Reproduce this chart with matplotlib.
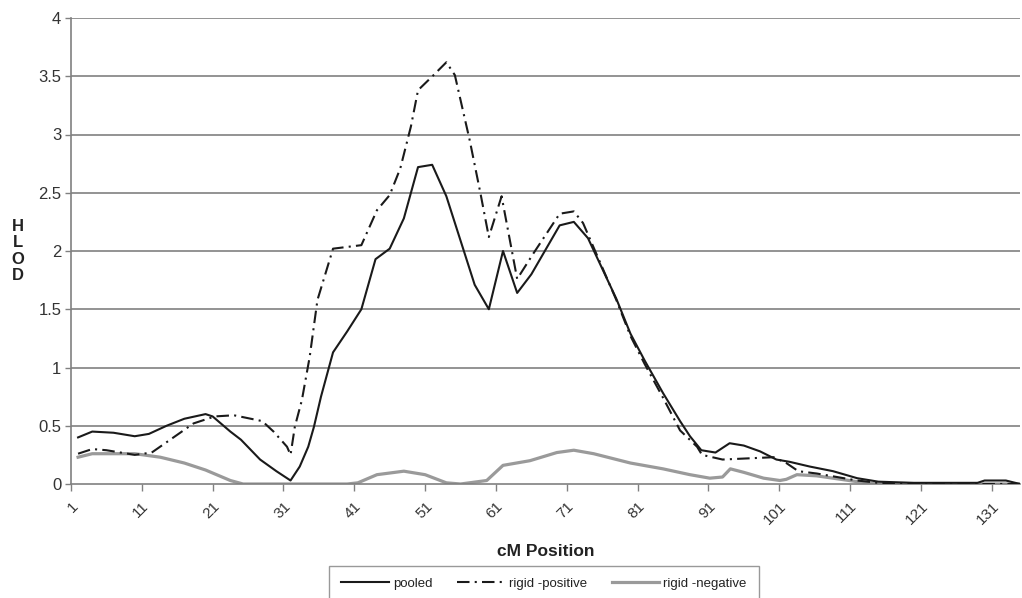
import matplotlib
matplotlib.use('Agg')
import matplotlib.pyplot as plt
import numpy as np

plt.rcParams['font.family'] = ['Liberation Sans', 'DejaVu Sans']

# values (cM position, HLOD)
pooled_x = [2, 4, 7, 10, 12, 14.5, 17, 20, 21, 23.5, 25, 27.7, 30, 32, 33.3,
            34.5, 35.3, 36.3, 38, 40, 42, 44, 46, 48, 50, 52, 54, 58, 60, 62,
            64, 66, 70, 72, 74, 78, 80, 82, 84.6, 87, 88.4, 90, 92, 94, 96,
            98.3, 100.6, 102.5, 105.3, 108.6, 112, 115, 120, 125, 129, 130,
            133, 135]
pooled_y = [0.40, 0.45, 0.44, 0.41, 0.43, 0.50, 0.56, 0.60, 0.58, 0.45, 0.38,
            0.21, 0.11, 0.03, 0.15, 0.32, 0.49, 0.75, 1.13, 1.31, 1.50, 1.93,
            2.02, 2.28, 2.72, 2.74, 2.47, 1.71, 1.50, 2.00, 1.64, 1.80, 2.22,
            2.25, 2.11, 1.59, 1.29, 1.06, 0.78, 0.54, 0.41, 0.29, 0.27, 0.35,
            0.33, 0.28, 0.21, 0.19, 0.15, 0.11, 0.05, 0.02, 0.01, 0.01, 0.01,
            0.03, 0.03, 0.0]

pos_x = [2, 4, 6, 10, 12.4, 15, 18.3, 21.3, 24, 28, 29.6, 31.5, 32, 32.6,
         33.6, 34.7, 35.8, 38, 42, 44.2, 46, 47.5, 49, 50, 52.2, 54, 55.2,
         57.3, 58.8, 60, 61.8, 64, 66.3, 70, 72, 73.3, 78, 80, 82, 84.6, 87,
         89.4, 90.1, 93, 100.2, 102, 103.7, 106.3, 112, 115, 120, 135]
pos_y = [0.26, 0.30, 0.29, 0.25, 0.27, 0.38, 0.52, 0.58, 0.59, 0.54, 0.45,
         0.32, 0.25, 0.49, 0.72, 1.09, 1.58, 2.02, 2.05, 2.35, 2.48, 2.71,
         3.07, 3.38, 3.51, 3.62, 3.51, 2.95, 2.50, 2.12, 2.47, 1.76, 1.98,
         2.32, 2.34, 2.24, 1.58, 1.27, 1.03, 0.74, 0.46, 0.32, 0.25, 0.21,
         0.23, 0.18, 0.11, 0.09, 0.03, 0.01, 0.0, 0.0]

neg_x = [2, 4, 10, 13.6, 17, 20, 23.5, 25.3, 40, 41.5, 44.2, 48, 51, 54, 56,
         59.7, 62, 65.8, 69.6, 72, 74.8, 80, 84.6, 88.4, 91.2, 93, 94.1, 96,
         98.8, 101.1, 102, 103.5, 106.3, 112, 115, 135]
neg_y = [0.23, 0.26, 0.26, 0.23, 0.18, 0.12, 0.03, 0.0, 0.0, 0.01, 0.08, 0.11,
         0.08, 0.01, 0.0, 0.03, 0.16, 0.20, 0.27, 0.29, 0.26, 0.18, 0.13,
         0.08, 0.05, 0.06, 0.13, 0.10, 0.05, 0.03, 0.04, 0.08, 0.07, 0.02,
         0.0, 0.0]

x_ticks = list(range(1, 132, 10))
y_ticks = [0, 0.5, 1, 1.5, 2, 2.5, 3, 3.5, 4]
y_labels = ['0', '0.5', '1', '1.5', '2', '2.5', '3', '3.5', '4']

fig = plt.figure(figsize=(10.22, 5.98), dpi=100)
ax = fig.add_axes([71 / 1022, 1 - 484 / 598, (1020 - 71) / 1022, (484 - 18) / 598])

ax.plot(pooled_x, pooled_y, color='#1a1a1a', lw=1.5, label='pooled', zorder=4)
ln, = ax.plot(pos_x, pos_y, color='#1a1a1a', lw=1.5, label='rigid -positive', zorder=3)
ln.set_dashes([6, 2.5, 1, 2.5])
ax.plot(neg_x, neg_y, color='#9a9a9a', lw=2.3, label='rigid -negative', zorder=2)

ax.set_xlim(1, 135)
ax.set_ylim(0, 4)
ax.set_yticks(y_ticks)
ax.set_yticklabels(y_labels)
ax.set_xticks(x_ticks)
ax.set_xticklabels([str(t) for t in x_ticks], rotation=45, ha='right', va='top',
                   rotation_mode='anchor')

for y in y_ticks[1:]:
    ax.axhline(y, color='#808080', lw=1.2, zorder=1)

for s in ['top', 'right']:
    ax.spines[s].set_visible(False)
for s in ['left', 'bottom']:
    ax.spines[s].set_color('#808080')
    ax.spines[s].set_linewidth(1.2)

ax.tick_params(axis='y', length=4, width=1, color='#808080', pad=3,
               labelsize=12, labelcolor='#333333')
ax.tick_params(axis='x', length=5, width=1, color='#808080', pad=6,
               labelsize=11, labelcolor='#333333')

ax.set_xlabel('cM Position', fontsize=12.5, fontweight='bold', color='#222222',
              labelpad=12)
fig.text(18 / 1022, 1 - 251 / 598, 'H\nL\nO\nD', fontsize=12, fontweight='bold',
         color='#222222', ha='center', va='center', linespacing=1.1)

leg = fig.legend(loc='upper center', bbox_to_anchor=(544 / 1022, 1 - 566 / 598),
                 ncol=3, fontsize=9.5, frameon=True, fancybox=False,
                 edgecolor='#808080', handlelength=3.6, handletextpad=0.3,
                 columnspacing=1.9, borderpad=0.9, borderaxespad=0)
leg.get_frame().set_linewidth(1.0)
for t in leg.get_texts():
    t.set_color('#222222')

fig.savefig('out.png', dpi=100)
